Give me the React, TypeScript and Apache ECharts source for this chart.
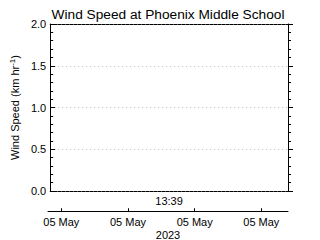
import React, { useEffect, useRef } from "react";
import * as echarts from "echarts";

const titleText = "Wind Speed at Phoenix Middle School";
const yTicks = [0, 0.5, 1.0, 1.5, 2.0];
const timeTickValues = [0.2, 1.2, 2.2, 3.2];
const timeTickLabels = ["05 May", "05 May", "05 May", "05 May"];
const centerTimeLabel = "13:39";
const yearLabel = "2023";
const windValues: number[][] = [];

const FONT = "Liberation Sans";

export default function App() {
  const ref = useRef<HTMLDivElement>(null);
  useEffect(() => {
    if (!ref.current) return;
    const chart = echarts.init(ref.current, undefined, { renderer: "svg" });
    const yCommon = {
      type: "value" as const,
      gridIndex: 0,
      min: yTicks[0],
      max: yTicks[yTicks.length - 1],
      interval: 0.5,
      axisLine: { show: true, onZero: false, lineStyle: { color: "#000", width: 1 } },
    };
    chart.setOption({
      animation: false,
      backgroundColor: "#fff",
      textStyle: { fontFamily: FONT, color: "#000" },
      title: {
        text: titleText,
        left: 168,
        textAlign: "center",
        top: 7,
        padding: 0,
        textStyle: { fontFamily: FONT, fontSize: 13.7, fontWeight: "normal", color: "#000" },
      },
      grid: [
        { left: 48, right: 32, top: 24, height: 167 },
        { left: 48, right: 32, top: 211, height: 1 },
      ],
      xAxis: [
        {
          type: "value",
          gridIndex: 0,
          min: 0,
          max: 3.6,
          position: "bottom",
          axisLine: { show: true, onZero: false, lineStyle: { color: "#000", type: [3, 1] } },
          axisTick: { show: false },
          axisLabel: { show: false },
          splitLine: { show: false },
          name: centerTimeLabel,
          nameLocation: "middle",
          nameGap: 4,
          nameTextStyle: { fontFamily: FONT, fontSize: 11, color: "#000" },
        },
        {
          type: "value",
          gridIndex: 0,
          min: 0,
          max: 3.6,
          position: "top",
          axisLine: { show: true, onZero: false, lineStyle: { color: "#000", type: [3, 1] } },
          axisTick: { show: false },
          axisLabel: { show: false },
          splitLine: { show: false },
        },
        {
          type: "value",
          gridIndex: 1,
          min: 0,
          max: 3.6,
          position: "bottom",
          axisLine: { show: true, onZero: false, lineStyle: { color: "#000", width: 1 } },
          axisTick: { show: true, inside: true, length: 3, customValues: timeTickValues, lineStyle: { color: "#000" } },
          axisLabel: {
            show: true,
            customValues: timeTickValues,
            formatter: (v: number) => {
              const i = timeTickValues.findIndex((t) => Math.abs(t - v) < 1e-6);
              return i >= 0 ? timeTickLabels[i] : "";
            },
            margin: 5,
            fontFamily: FONT,
            fontSize: 11,
            color: "#000",
          },
          splitLine: { show: false },
          name: yearLabel,
          nameLocation: "middle",
          nameGap: 18,
          nameTextStyle: { fontFamily: FONT, fontSize: 11, color: "#000" },
        },
      ],
      yAxis: [
        {
          ...yCommon,
          position: "left",
          axisTick: { show: true, inside: true, length: 5, lineStyle: { color: "#000", width: 1 } },
          minorTick: { show: true, splitNumber: 5, length: 3, lineStyle: { color: "#000", width: 1 } },
          axisLabel: {
            show: true,
            margin: 4,
            formatter: (v: number) => v.toFixed(1),
            fontFamily: FONT,
            fontSize: 11,
            color: "#000",
          },
          splitLine: { show: true, lineStyle: { color: "#bbb", type: [1, 3], width: 1 } },
          name: "Wind Speed (km hr{sup|-1})",
          nameLocation: "middle",
          nameRotate: 90,
          nameGap: 22,
          nameTextStyle: {
            fontFamily: FONT,
            fontSize: 11,
            color: "#000",
            rich: { sup: { fontFamily: FONT, fontSize: 8, color: "#000", verticalAlign: "top", padding: [0, 0, 5, 0] } },
          },
        },
        {
          ...yCommon,
          position: "right",
          axisTick: { show: true, inside: true, length: -5, lineStyle: { color: "#000", width: 1 } },
          minorTick: { show: true, splitNumber: 5, length: -3, lineStyle: { color: "#000", width: 1 } },
          axisLabel: { show: false },
          splitLine: { show: false },
        },
        {
          type: "value",
          gridIndex: 1,
          show: false,
        },
      ],
      series: [
        { type: "line", xAxisIndex: 0, yAxisIndex: 0, data: windValues, showSymbol: false },
      ],
    });
    return () => chart.dispose();
  }, []);
  return <div ref={ref} style={{ position: "fixed", left: 0, top: 0, width: 320, height: 240 }} />;
}
